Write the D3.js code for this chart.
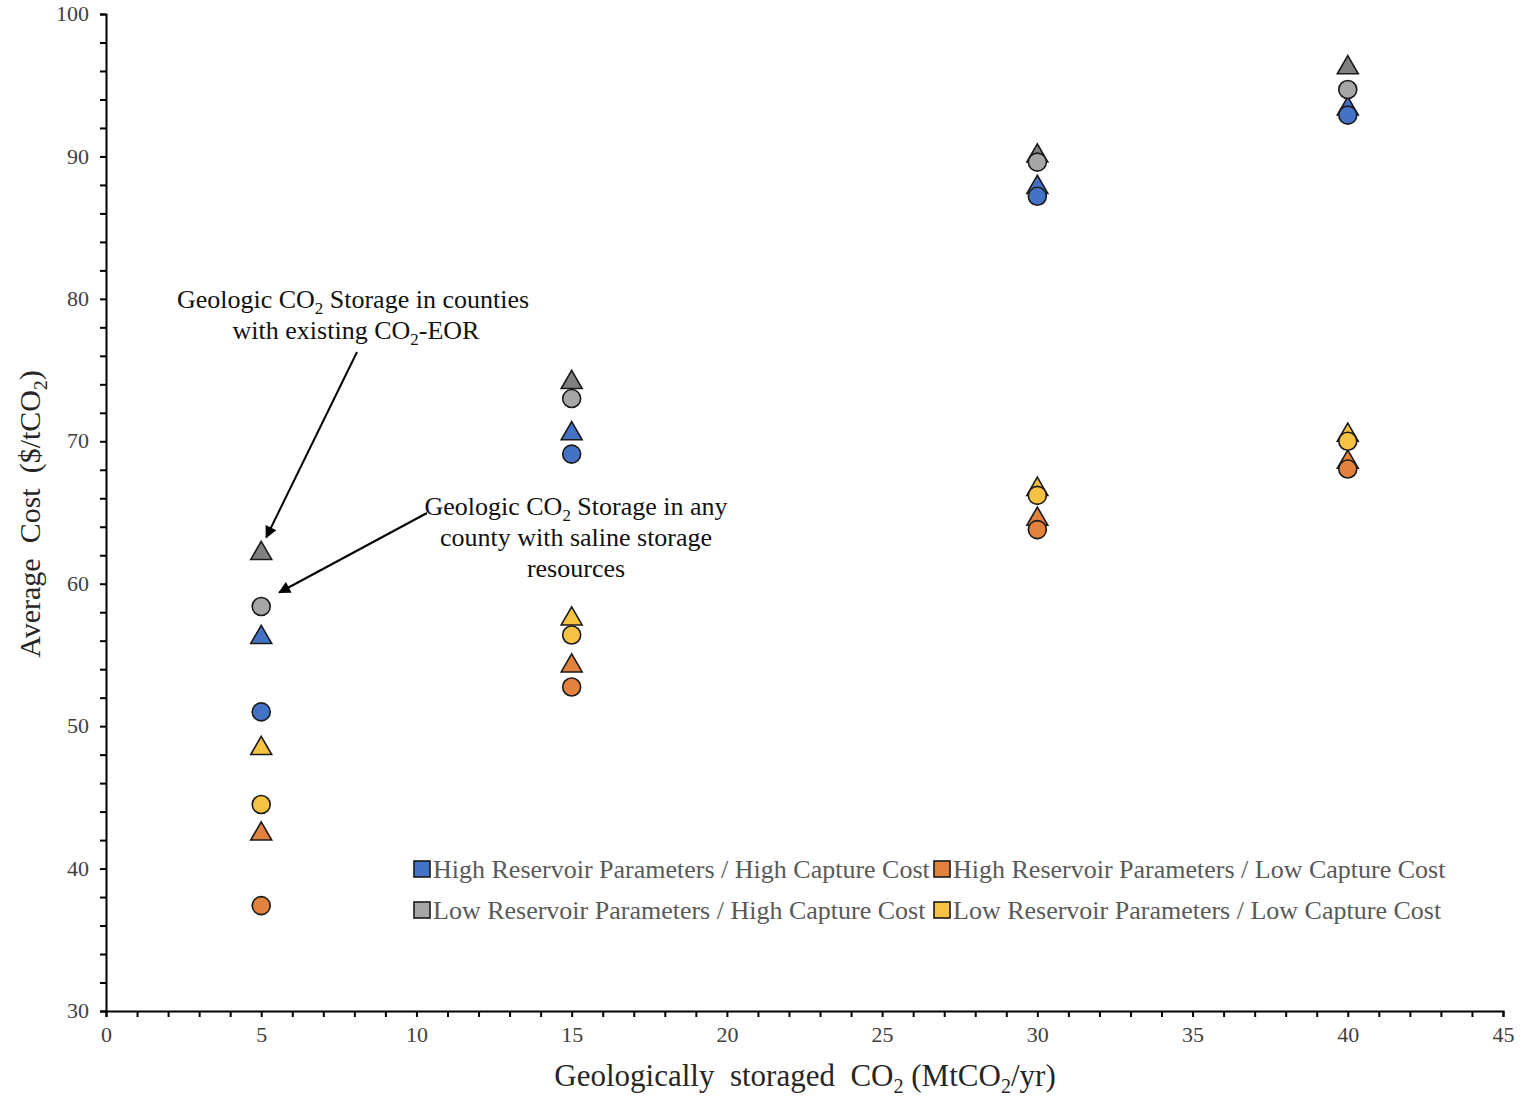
<!DOCTYPE html>
<html>
<head>
<meta charset="utf-8">
<script src="https://cdn.jsdelivr.net/npm/d3@7"></script>
<style>
  body { margin: 0; background: #fff; }
  text { font-family: "Liberation Serif", "Times New Roman", serif; }
</style>
</head>
<body>
<svg id="chart" width="1521" height="1100"></svg>
<script>
// capture volumes (MtCO2/yr)
const volumes = [5, 15, 30, 40];

// circles: storage in any county with saline resources
const highResHighCapSaline = [51.0, 69.1, 87.2, 92.9];
const highResLowCapSaline = [37.4, 52.75, 63.8, 68.05];
const lowResHighCapSaline = [58.4, 73.0, 89.6, 94.7];
const lowResLowCapSaline = [44.5, 56.4, 66.2, 70.0];

// triangles: storage in counties with existing CO2-EOR
const highResHighCapEor = [56.3, 70.6, 87.9, 93.4];
const highResLowCapEor = [42.5, 54.3, 64.6, 68.6];
const lowResHighCapEor = [62.2, 74.2, 90.1, 96.3];
const lowResLowCapEor = [48.5, 57.6, 66.7, 70.5];

const scenarioNames = [
  "High Reservoir Parameters / High Capture Cost",
  "High Reservoir Parameters / Low Capture Cost",
  "Low Reservoir Parameters / High Capture Cost",
  "Low Reservoir Parameters / Low Capture Cost",
];

const xTicks = d3.range(0, 46, 1);
const yTicks = d3.range(30, 101, 2);

const colors = ["#4472C4", "#E3823F", "#A6A6A6", "#F6C243"];
const triColors = ["#4472C4", "#E3823F", "#808080", "#F6C243"];

const svg = d3.select("#chart");
const plotLeft = 106, plotRight = 1503, plotTop = 14, plotBottom = 1011;

const x = d3.scaleLinear().domain([0, 45]).range([plotLeft, plotRight]);
const y = d3.scaleLinear().domain([30, 100]).range([plotBottom, plotTop]);

// axes
const xAxis = svg
  .append("g")
  .attr("transform", `translate(0,${plotBottom})`)
  .call(
    d3
      .axisBottom(x)
      .tickValues(xTicks)
      .tickSize(6)
      .tickFormat((d) => (d % 5 === 0 ? d : ""))
  );
const yAxis = svg
  .append("g")
  .attr("transform", `translate(${plotLeft},0)`)
  .call(
    d3
      .axisLeft(y)
      .tickValues(yTicks)
      .tickSize(6)
      .tickFormat((d) => (d % 10 === 0 ? d : ""))
  );

[xAxis, yAxis].forEach((ax) => {
  ax.select(".domain").attr("stroke", "#000").attr("stroke-width", 2);
  ax.selectAll(".tick line").attr("stroke", "#000").attr("stroke-width", 2);
  ax.selectAll(".tick text")
    .attr("fill", "#404040")
    .style("font-family", "Liberation Serif")
    .style("font-size", "22px");
});
xAxis.selectAll(".tick text").attr("dy", "1.0em");
yAxis.selectAll(".tick text").attr("x", -17).attr("dy", "0.3em");

// text with subscripts: strings are plain, {s: "2"} is a subscript
function richText(sel, parts, size) {
  const shift = size * 0.22;
  let lowered = false;
  parts.forEach((p) => {
    if (typeof p === "string") {
      const t = sel.append("tspan").text(p);
      if (lowered) t.attr("dy", -shift);
      lowered = false;
    } else {
      sel.append("tspan").attr("dy", shift).style("font-size", size * 0.65 + "px").text(p.s);
      lowered = true;
    }
  });
}

// axis titles
const xTitle = svg
  .append("text")
  .attr("x", 805)
  .attr("y", 1086)
  .attr("text-anchor", "middle")
  .attr("fill", "#262626")
  .style("font-size", "31px");
richText(xTitle, ["Geologically\u00a0 storaged\u00a0 CO", { s: "2" }, " (MtCO", { s: "2" }, "/yr)"], 31);

const yTitle = svg
  .append("text")
  .attr("transform", "translate(40,514) rotate(-90)")
  .attr("text-anchor", "middle")
  .attr("fill", "#262626")
  .style("font-size", "30px");
richText(yTitle, ["Average\u00a0 Cost\u00a0 ($/tCO", { s: "2" }, ")"], 30);

// markers
const triangle = d3.symbol().type(d3.symbolTriangle).size(190);
const scenarios = [
  { saline: highResHighCapSaline, eor: highResHighCapEor },
  { saline: highResLowCapSaline, eor: highResLowCapEor },
  { saline: lowResHighCapSaline, eor: lowResHighCapEor },
  { saline: lowResLowCapSaline, eor: lowResLowCapEor },
];

scenarios.forEach((s, i) => {
  svg
    .append("g")
    .selectAll("path")
    .data(s.eor)
    .join("path")
    .attr("d", triangle)
    .attr("transform", (d, j) => `translate(${x(volumes[j])},${y(d) + 1})`)
    .attr("fill", triColors[i])
    .attr("stroke", "#1a1a1a")
    .attr("stroke-width", 1.6);
});
scenarios.forEach((s, i) => {
  svg
    .append("g")
    .selectAll("circle")
    .data(s.saline)
    .join("circle")
    .attr("cx", (d, j) => x(volumes[j]))
    .attr("cy", (d) => y(d))
    .attr("r", 9)
    .attr("fill", colors[i])
    .attr("stroke", "#1a1a1a")
    .attr("stroke-width", 1.6);
});

// annotations
svg
  .append("defs")
  .append("marker")
  .attr("id", "arrow")
  .attr("viewBox", "0 0 10 10")
  .attr("refX", 9)
  .attr("refY", 5)
  .attr("markerWidth", 14)
  .attr("markerHeight", 12)
  .attr("markerUnits", "userSpaceOnUse")
  .attr("orient", "auto")
  .append("path")
  .attr("d", "M0,0 L10,5 L0,10 z")
  .attr("fill", "#000");

svg.append("line")
  .attr("x1", 357).attr("y1", 352)
  .attr("x2", x(5) + 5).attr("y2", y(62.2) - 15)
  .attr("stroke", "#000").attr("stroke-width", 2)
  .attr("marker-end", "url(#arrow)");
svg.append("line")
  .attr("x1", 427).attr("y1", 513)
  .attr("x2", x(5) + 18).attr("y2", y(58.4) - 14)
  .attr("stroke", "#000").attr("stroke-width", 2)
  .attr("marker-end", "url(#arrow)");

const note1 = svg.append("g").attr("text-anchor", "middle").attr("fill", "#111").style("font-size", "26px");
richText(note1.append("text").attr("x", 353).attr("y", 308), ["Geologic CO", { s: "2" }, " Storage in counties"], 26);
richText(note1.append("text").attr("x", 356).attr("y", 339), ["with existing CO", { s: "2" }, "-EOR"], 26);

const note2 = svg.append("g").attr("text-anchor", "middle").attr("fill", "#111").style("font-size", "26px");
richText(note2.append("text").attr("x", 576).attr("y", 515), ["Geologic CO", { s: "2" }, " Storage in any"], 26);
note2.append("text").attr("x", 576).attr("y", 546).text("county with saline storage");
note2.append("text").attr("x", 576).attr("y", 577).text("resources");

// legend
const legendPos = [
  [414, 869],
  [934, 869],
  [414, 910],
  [934, 910],
];
const legend = svg
  .append("g")
  .selectAll("g")
  .data(scenarioNames)
  .join("g")
  .attr("transform", (d, i) => `translate(${legendPos[i][0]},${legendPos[i][1]})`);
legend
  .append("rect")
  .attr("x", 0)
  .attr("y", -8)
  .attr("width", 16)
  .attr("height", 16)
  .attr("fill", (d, i) => colors[i])
  .attr("stroke", "#1a1a1a")
  .attr("stroke-width", 1.6);
legend
  .append("text")
  .attr("x", 19)
  .attr("y", 9)
  .attr("fill", "#595959")
  .style("font-size", "26px")
  .text((d) => d);
</script>
</body>
</html>
